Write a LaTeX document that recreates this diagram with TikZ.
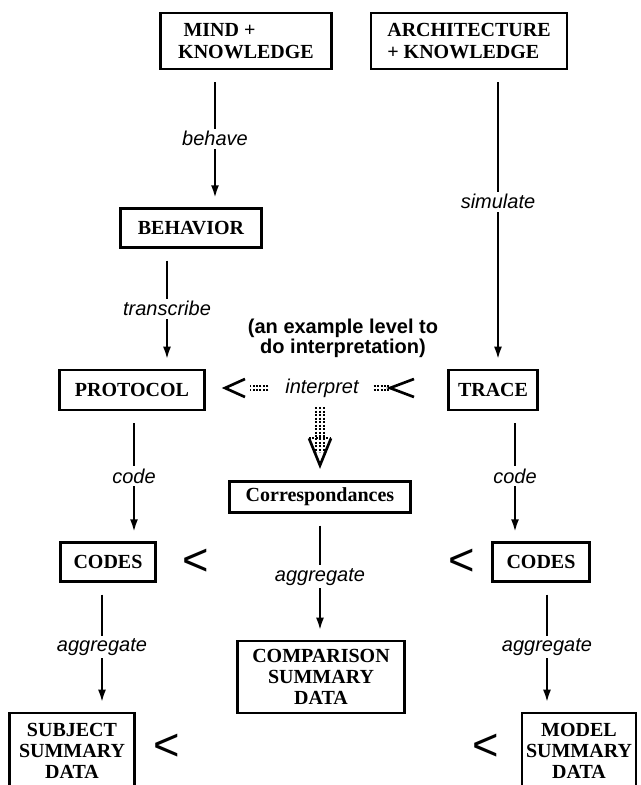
\documentclass[tikz,border=0pt]{standalone}
\usepackage{fontspec}
\setmainfont{Liberation Serif}
\setsansfont{Liberation Sans}
\usetikzlibrary{arrows.meta,calc}

\begin{document}
\begin{tikzpicture}[x=0.75pt, y=-0.75pt,
			>={Latex[length=9.5pt,width=6pt]},   %Pfeilspitzen
			box/.style={draw, line width=2pt, inner sep=0pt, align=center, font=\bfseries\fontsize{15}{16}\selectfont},
			lbl/.style={fill=white, inner sep=2pt, font=\sffamily\itshape\fontsize{15}{16}\selectfont},
			flow/.style={->, line width=1.7pt, shorten <=9pt, shorten >=7pt},
			less/.style={inner sep=0pt, font=\sffamily\fontsize{34}{34}\selectfont},
			barb/.style={line width=2pt, line join=miter},
			dots/.style={line width=1.6pt, dash pattern=on 1.5pt off 1.1pt}]
			%Rahmen
			\path[fill=white, use as bounding box] (0,0) rectangle (640,785);
			\clip (0,0) rectangle (640,785);
			%Kaesten
			\node[box, align=left, minimum width=128pt, minimum height=42pt] (mind) at (246,41) {\hspace*{4pt}MIND +\\KNOWLEDGE};
			\node[box, align=left, minimum width=147pt, minimum height=42pt] (arch) at (469,41) {ARCHITECTURE\\+ KNOWLEDGE};
			\node[box, minimum width=106pt, minimum height=29pt] (behav) at (191,228) {BEHAVIOR};
			\node[box, minimum width=109pt, minimum height=30pt] (proto) at (132,390) {PROTOCOL};
			\node[box, minimum width=67pt, minimum height=30pt] (trace) at (493,390) {TRACE};
			\node[box, minimum width=136pt, minimum height=23pt] (corr) at (320,497) {Correspondances};
			\node[box, minimum width=71pt, minimum height=29pt] (codesL) at (108,562) {CODES};
			\node[box, minimum width=73pt, minimum height=29pt] (codesR) at (541,562) {CODES};
			\node[box, minimum width=125pt, minimum height=54pt] (comp) at (321,677) {COMPARISON\\SUMMARY\\DATA};
			\node[box, minimum width=94pt, minimum height=57pt] (subj) at (72,751) {SUBJECT\\SUMMARY\\DATA};
			\node[box, minimum width=85.5pt, minimum height=57pt] (model) at (579,751) {MODEL\\SUMMARY\\DATA};
			%Texte
			\node[font=\sffamily\bfseries\fontsize{15}{15}\selectfont, align=center] (note) at (343,338) {(an example level to\\do interpretation)};
			\node[lbl] (interp) at (322,388) {interpret};
			\node[less] (ltA) at (196,562) {<};
			\node[less] (ltB) at (462,562) {<};
			\node[less] (ltC) at (167,747) {<};
			\node[less] (ltD) at (486,747) {<};
			%Spalten der Pfeile
			\coordinate (xbeh) at (215,0);
			\coordinate (xsim) at (498,0);
			\coordinate (xtra) at (167,0);
			\coordinate (xcodeL) at (134,0);
			\coordinate (xcodeR) at (515,0);
			\coordinate (xaggL) at (102,0);
			\coordinate (xaggR) at (547,0);
			%Pfeile
			\draw[flow] (mind.south -| xbeh) -- node[lbl] {behave} (behav.north -| xbeh);
			\draw[flow] (arch.south -| xsim) -- node[lbl, pos=0.44] {simulate} (trace.north -| xsim);
			\draw[flow] (behav.south -| xtra) -- node[lbl] {transcribe} (proto.north -| xtra);
			\draw[flow] (proto.south -| xcodeL) -- node[lbl] {code} (codesL.north -| xcodeL);
			\draw[flow] (trace.south -| xcodeR) -- node[lbl] {code} (codesR.north -| xcodeR);
			\draw[flow] (corr.south) -- node[lbl] {aggregate} (corr.south |- comp.north);
			\draw[flow] (codesL.south -| xaggL) -- node[lbl] {aggregate} (subj.north -| xaggL);
			\draw[flow] (codesR.south -| xaggR) -- node[lbl] {aggregate} (model.north -| xaggR);
			%interpret
			\coordinate (pl) at (proto.east |- interp.west);
			\coordinate (tl) at (trace.west |- interp.east);
			\foreach \dy in {-1.5pt,1.5pt} {
				\draw[dots, shorten <=10.5pt, shorten >=33pt] ([yshift=\dy]interp.west) -- ([yshift=\dy]pl);
				\draw[dots, shorten <=9pt, shorten >=42.75pt] ([yshift=\dy]interp.east) -- ([yshift=\dy]tl);
			}
			\draw[barb] ($(pl)+(39,-9)$) -- ($(pl)+(19,0)$) -- ($(pl)+(39,9)$);
			\draw[barb] ($(tl)+(-33,-9)$) -- ($(tl)+(-57,0)$) -- ($(tl)+(-33,9)$);
			%hohler Pfeil
			\coordinate (hs) at (corr.north |- interp.south);
			\foreach \dx in {-4,0,4} \draw[dots] ($(hs)+(\dx,7)$) -- ($(corr.north)+(\dx,-28)$);
			\draw[dots] ($(corr.north)+(-11,-42)$) -- ($(corr.north)+(11,-42)$);
			\draw[barb] ($(corr.north)+(-11,-42)$) -- ($(corr.north)+(0,-15)$) -- ($(corr.north)+(11,-42)$);
		\end{tikzpicture}
\end{document}
